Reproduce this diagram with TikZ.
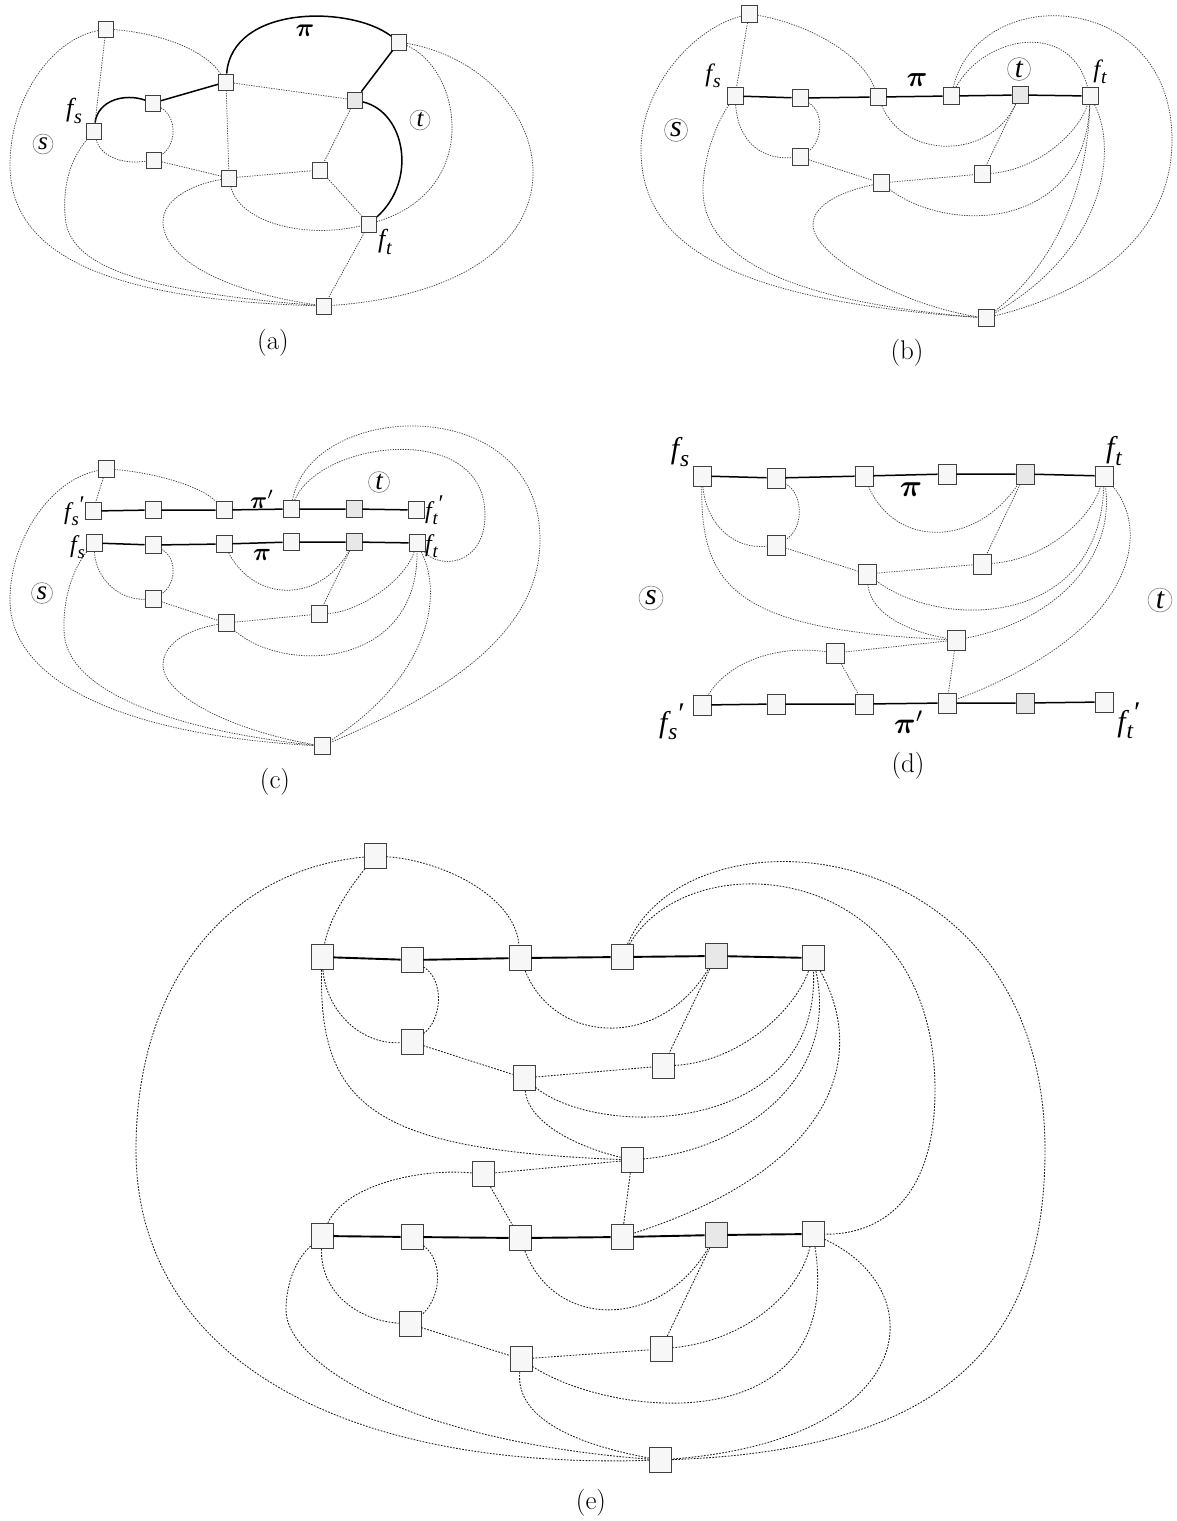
\documentclass[tikz,border=0pt]{standalone}
\usepackage{amsmath}
\usepackage{graphicx}
\usepackage{fontspec}
\newfontfamily\tms{Liberation Serif}
\newcommand{\fsb}[1]{f\kern0.03em\raisebox{-0.24em}{\scalebox{0.78}{#1}}}
\newcommand{\fsbp}[1]{f\kern0.03em\raisebox{-0.24em}{\scalebox{0.78}{#1}}\kern0.03em\raisebox{0.28em}{\upshape ′}}
\newcommand{\bpi}[1]{\scalebox{#1}{$\boldsymbol{\pi}$}}
\newcommand{\bpip}[1]{\scalebox{#1}{$\boldsymbol{\pi}'$}}
\begin{document}
\begin{tikzpicture}[x=1pt,y=-1pt,
  box/.style={rectangle,draw=black!75,fill=black!3,line width=0.8pt,inner sep=0pt},
  boxa/.style={box,minimum width=15pt,minimum height=16pt},
  boxb/.style={box,minimum width=16pt,minimum height=17pt},
  boxd/.style={box,minimum width=18pt,minimum height=20pt},
  boxe/.style={box,minimum width=22pt,minimum height=25pt},
  dk/.style={fill=black!9},
  dt/.style={draw=black!75,line width=0.75pt,dash pattern=on 1.3pt off 1.2pt},
  dte/.style={draw=black!90,line width=0.85pt,dash pattern=on 1.7pt off 1.4pt},
  pth/.style={draw=black,line width=1.5pt},
  pthe/.style={draw=black,line width=1.9pt},
  lbl/.style={inner sep=0pt},
  circ/.style={circle,draw=black!50,line width=0.6pt,inner sep=0pt},
  captxt/.style={inner sep=0pt,font=\fontsize{27}{27}\selectfont}]
\path[use as bounding box] (0,0) rectangle (1177,1521);

% ================= (a) =================
\node[boxa] (aTL) at (106,29) {};
\node[boxa] (aP) at (399,42) {};
\node[boxa] (aC) at (226,82) {};
\node[boxa] (aB) at (153,103) {};
\node[boxa] (aFS) at (94,131) {};
\node[boxa,dk] (aR) at (355,100) {};
\node[boxa] (aD) at (154,160) {};
\node[boxa] (aE) at (229,178) {};
\node[boxa] (aF) at (320,170) {};
\node[boxa] (aFT) at (369,224) {};
\node[boxa] (aBOT) at (324,306) {};

\draw[pth] (aFS) .. controls (98,100) and (125,93) .. (aB);
\draw[pth] (aB) -- (aC);
\draw[pth] (aC) .. controls (232,5) and (350,5) .. (aP);
\draw[pth] (aP) -- (aR);
\draw[pth] (aR) .. controls (405,112) and (418,180) .. (aFT);

\draw[dt] (aTL) .. controls (160,33) and (205,50) .. (aC);
\draw[dt] (aTL) -- (aFS);
\draw[dt] (aTL) .. controls (50,40) and (10,100) .. (10,165) .. controls (10,260) and (120,300) .. (aBOT);
\draw[dt] (aB) .. controls (178,118) and (176,145) .. (aD);
\draw[dt] (aFS) .. controls (100,155) and (120,165) .. (aD);
\draw[dt] (aD) -- (aE);
\draw[dt] (aC) -- (aE);
\draw[dt] (aC) -- (aR);
\draw[dt] (aR) -- (aF);
\draw[dt] (aE) -- (aF);
\draw[dt] (aF) -- (aFT);
\draw[dt] (aE) .. controls (238,220) and (300,240) .. (aFT);
\draw[dt] (aFT) -- (aBOT);
\draw[dt] (aFS) .. controls (70,160) and (63,185) .. (65,215) .. controls (67,260) and (120,290) .. (aBOT);
\draw[dt] (aE) .. controls (190,185) and (163,200) .. (163,222) .. controls (163,255) and (215,290) .. (aBOT);
\draw[dt] (aP) .. controls (462,70) and (482,190) .. (aFT);
\draw[dt] (aP) .. controls (560,70) and (615,285) .. (aBOT);

\node[lbl,font=\fontsize{26}{26}\tms\itshape] (aLfs) at (74,111) {\fsb{s}};
\node[lbl,font=\fontsize{26}{26}\tms\itshape] (aLft) at (385,242) {\fsb{t}};
\node[lbl] (aLpi) at (305,31) {\bpi{2.6}};
\node[circ,minimum size=20pt,font=\fontsize{25}{25}\tms\itshape] (aS) at (43,144) {s};
\node[circ,minimum size=20pt,font=\fontsize{25}{25}\tms\itshape] (aT) at (420,120) {t};
\node[captxt] (acap) at (273,343) {(a)};

% ================= (b) =================
\node[boxb] (bTL) at (749,14) {};
\node[boxb] (bFS) at (735,96) {};
\node[boxb] (bN2) at (800,98) {};
\node[boxb] (bN3) at (878,97) {};
\node[boxb] (bN4) at (951,96) {};
\node[boxb,dk] (bN5) at (1020,95) {};
\node[boxb] (bFT) at (1090,96) {};
\node[boxb] (bD) at (800,157) {};
\node[boxb] (bE) at (881,183) {};
\node[boxb] (bF) at (982,174) {};
\node[boxb] (bBOT) at (986,318) {};

\draw[pth] (bFS) -- (bN2) -- (bN3) -- (bN4) -- (bN5) -- (bFT);

\draw[dt] (bTL) -- (bFS);
\draw[dt] (bTL) .. controls (800,22) and (860,50) .. (bN3);
\draw[dt] (bTL) .. controls (690,30) and (641,90) .. (641,150) .. controls (641,240) and (720,300) .. (bBOT);
\draw[dt] (bFS) .. controls (738,140) and (760,160) .. (bD);
\draw[dt] (bN2) .. controls (825,112) and (822,142) .. (bD);
\draw[dt] (bD) -- (bE);
\draw[dt] (bN3) .. controls (905,160) and (990,160) .. (bN5);
\draw[dt] (bN5) -- (bF);
\draw[dt] (bE) -- (bF);
\draw[dt] (bF) .. controls (1040,170) and (1080,130) .. (bFT);
\draw[dt] (bE) .. controls (950,235) and (1085,230) .. (bFT);
\draw[dt] (bE) .. controls (840,192) and (813,205) .. (813,225) .. controls (813,255) and (900,305) .. (bBOT);
\draw[dt] (bFS) .. controls (715,125) and (703,160) .. (703,190) .. controls (703,250) and (770,300) .. (bBOT);
\draw[dt] (bFT) .. controls (1088,180) and (1060,260) .. (bBOT);
\draw[dt] (bFT) .. controls (1118,150) and (1105,250) .. (bBOT);
\draw[dt] (bN4) .. controls (985,35) and (1070,20) .. (bFT);
\draw[dt] (bN4) .. controls (980,-20) and (1172,-10) .. (1172,140) .. controls (1172,230) and (1100,290) .. (bBOT);

\node[lbl,font=\fontsize{25}{25}\tms\itshape] (bLfs) at (713,76) {\fsb{s}};
\node[lbl,font=\fontsize{25}{25}\tms\itshape] (bLft) at (1100,72) {\fsb{t}};
\node[lbl] (bLpi) at (917,80) {\bpi{2.9}};
\node[circ,minimum size=23pt,font=\fontsize{30}{30}\tms\itshape] (bS) at (676,130) {s};
\node[circ,minimum size=23pt,font=\fontsize{29}{29}\tms\itshape] (bT) at (1019,69) {t};
\node[captxt] (bcap) at (907,353) {(b)};

% ================= (c) =================
\node[boxb] (cTL) at (106,469) {};
\node[boxb] (cA1) at (93,511) {};
\node[boxb] (cA2) at (153,510) {};
\node[boxb] (cA3) at (224,510) {};
\node[boxb] (cA4) at (291,509) {};
\node[boxb,dk] (cA5) at (354,509) {};
\node[boxb] (cA6) at (416,510) {};
\node[boxb] (cB1) at (94,543) {};
\node[boxb] (cB2) at (153,545) {};
\node[boxb] (cB3) at (224,544) {};
\node[boxb] (cB4) at (291,542) {};
\node[boxb,dk] (cB5) at (354,542) {};
\node[boxb] (cB6) at (417,543) {};
\node[boxb] (cD) at (153,599) {};
\node[boxb] (cE) at (226,623) {};
\node[boxb] (cF) at (319,614) {};
\node[boxb] (cBOT) at (322,746) {};

\draw[pth] (cA1) -- (cA2) -- (cA3) -- (cA4) -- (cA5) -- (cA6);
\draw[pth] (cB1) -- (cB2) -- (cB3) -- (cB4) -- (cB5) -- (cB6);

\draw[dt] (cTL) -- (cA1);
\draw[dt] (cTL) .. controls (150,472) and (200,485) .. (cA3);
\draw[dt] (cTL) .. controls (50,480) and (10,540) .. (10,600) .. controls (10,680) and (120,735) .. (cBOT);
\draw[dt] (cB1) .. controls (96,580) and (120,600) .. (cD);
\draw[dt] (cB2) .. controls (178,558) and (176,585) .. (cD);
\draw[dt] (cD) -- (cE);
\draw[dt] (cB3) .. controls (255,603) and (320,603) .. (cB5);
\draw[dt] (cB5) -- (cF);
\draw[dt] (cE) -- (cF);
\draw[dt] (cF) .. controls (360,612) and (405,580) .. (cB6);
\draw[dt] (cE) .. controls (285,675) and (418,668) .. (cB6);
\draw[dt] (cE) .. controls (185,630) and (163,645) .. (163,665) .. controls (163,695) and (230,730) .. (cBOT);
\draw[dt] (cB1) .. controls (72,570) and (63,600) .. (64,630) .. controls (64,690) and (170,730) .. (cBOT);
\draw[dt] (cB6) .. controls (445,600) and (425,680) .. (cBOT);
\draw[dt] (cA4) .. controls (320,440) and (485,420) .. (485,515) .. controls (485,565) and (440,570) .. (cB6);
\draw[dt] (cA4) .. controls (310,400) and (540,390) .. (540,540) .. controls (540,640) and (430,700) .. (cBOT);

\node[lbl,anchor=east,font=\fontsize{24}{24}\tms\itshape] (cLfsp) at (85,511) {\fsbp{s}};
\node[lbl,anchor=west,font=\fontsize{24}{24}\tms\itshape] (cLftp) at (425,510) {\fsbp{t}};
\node[lbl,anchor=east,font=\fontsize{24}{24}\tms\itshape] (cLfs) at (85,547) {\fsb{s}};
\node[lbl,anchor=west,font=\fontsize{24}{24}\tms\itshape] (cLft) at (425,546) {\fsb{t}};
\node[lbl] (cLpip) at (262,499) {\bpip{2.4}};
\node[lbl] (cLpi) at (262,555) {\bpi{2.5}};
\node[circ,minimum size=21pt,font=\fontsize{27}{27}\tms\itshape] (cS) at (42,593) {s};
\node[circ,minimum size=21pt,font=\fontsize{27}{27}\tms\itshape] (cT) at (379,482) {t};
\node[captxt] (ccap) at (275,782) {(c)};

% ================= (d) =================
\node[boxd] (dP1) at (702,476) {};
\node[boxd] (dP2) at (776,478) {};
\node[boxd] (dP3) at (864,476) {};
\node[boxd] (dP4) at (947,474) {};
\node[boxd,dk] (dP5) at (1025,474) {};
\node[boxd] (dP6) at (1104,476) {};
\node[boxd] (dD) at (776,545) {};
\node[boxd] (dE) at (867,574) {};
\node[boxd] (dF) at (982,564) {};
\node[boxd] (dG) at (956,640) {};
\node[boxd] (dH) at (835,653) {};
\node[boxd] (dQ1) at (702,705) {};
\node[boxd] (dQ2) at (776,704) {};
\node[boxd] (dQ3) at (864,704) {};
\node[boxd] (dQ4) at (947,703) {};
\node[boxd,dk] (dQ5) at (1025,703) {};
\node[boxd] (dQ6) at (1104,702) {};

\draw[pth] (dP1) -- (dP2) -- (dP3) -- (dP4) -- (dP5) -- (dP6);
\draw[pth] (dQ1) -- (dQ2) -- (dQ3) -- (dQ4) -- (dQ5) -- (dQ6);

\draw[dt] (dP1) .. controls (706,525) and (735,550) .. (dD);
\draw[dt] (dP2) .. controls (805,495) and (803,530) .. (dD);
\draw[dt] (dD) -- (dE);
\draw[dt] (dP3) .. controls (895,548) and (975,548) .. (dP5);
\draw[dt] (dP5) -- (dF);
\draw[dt] (dE) -- (dF);
\draw[dt] (dF) .. controls (1045,560) and (1090,520) .. (dP6);
\draw[dt] (dE) .. controls (945,632) and (1100,625) .. (dP6);
\draw[dt] (dP1) .. controls (700,590) and (740,630) .. (dG);
\draw[dt] (dE) .. controls (870,610) and (900,630) .. (dG);
\draw[dt] (dG) .. controls (1060,620) and (1115,555) .. (dP6);
\draw[dt] (dG) -- (dH);
\draw[dt] (dH) .. controls (780,645) and (730,660) .. (dQ1);
\draw[dt] (dH) -- (dQ3);
\draw[dt] (dG) -- (dQ4);
\draw[dt] (dP6) .. controls (1150,530) and (1140,630) .. (dQ4);

\node[lbl,font=\fontsize{30}{30}\tms\itshape] (dLfs) at (680,452) {\fsb{s}};
\node[lbl,font=\fontsize{30}{30}\tms\itshape] (dLft) at (1114,451) {\fsb{t}};
\node[lbl,font=\fontsize{30}{30}\tms\itshape] (dLfsp) at (672,722) {\fsbp{s}};
\node[lbl,font=\fontsize{30}{30}\tms\itshape] (dLftp) at (1129,721) {\fsbp{t}};
\node[lbl] (dLpi) at (911,490) {\bpi{3.1}};
\node[lbl] (dLpip) at (909,722) {\bpip{3.0}};
\node[circ,minimum size=24pt,font=\fontsize{30}{30}\tms\itshape] (dS) at (651,598) {s};
\node[circ,minimum size=24pt,font=\fontsize{30}{30}\tms\itshape] (dT) at (1160,600) {t};
\node[captxt] (dcap) at (908,766) {(d)};

% ================= (e) =================
\node[boxe] (eTL) at (375,856) {};
\node[boxe] (eU1) at (322,957) {};
\node[boxe] (eU2) at (412,960) {};
\node[boxe] (eU3) at (520,958) {};
\node[boxe] (eU4) at (622,957) {};
\node[boxe,dk] (eU5) at (716,956) {};
\node[boxe] (eU6) at (813,958) {};
\node[boxe] (eD) at (412,1042) {};
\node[boxe] (eE) at (524,1078) {};
\node[boxe] (eF) at (663,1066) {};
\node[boxe] (eG) at (632,1160) {};
\node[boxe] (eH) at (483,1174) {};
\node[boxe] (eV1) at (322,1236) {};
\node[boxe] (eV2) at (412,1237) {};
\node[boxe] (eV3) at (520,1238) {};
\node[boxe] (eV4) at (622,1237) {};
\node[boxe,dk] (eV5) at (716,1235) {};
\node[boxe] (eV6) at (813,1234) {};
\node[boxe] (eD2) at (410,1324) {};
\node[boxe] (eE2) at (521,1359) {};
\node[boxe] (eF2) at (661,1349) {};
\node[boxe] (eBOT) at (660,1460) {};

\draw[pthe] (eU1) -- (eU2) -- (eU3) -- (eU4) -- (eU5) -- (eU6);
\draw[pthe] (eV1) -- (eV2) -- (eV3) -- (eV4) -- (eV5) -- (eV6);

\draw[dte] (eTL) .. controls (352,885) and (330,915) .. (eU1);
\draw[dte] (eTL) .. controls (440,860) and (515,895) .. (eU3);
\draw[dte] (eTL) .. controls (230,870) and (136,980) .. (136,1150) .. controls (136,1350) and (330,1470) .. (eBOT);
\draw[dte] (eU1) .. controls (326,1010) and (360,1045) .. (eD);
\draw[dte] (eU2) .. controls (445,980) and (442,1020) .. (eD);
\draw[dte] (eD) -- (eE);
\draw[dte] (eU3) .. controls (555,1045) and (660,1050) .. (eU5);
\draw[dte] (eU5) -- (eF);
\draw[dte] (eE) -- (eF);
\draw[dte] (eF) .. controls (740,1062) and (795,1010) .. (eU6);
\draw[dte] (eE) .. controls (600,1140) and (820,1135) .. (eU6);
\draw[dte] (eU1) .. controls (318,1110) and (380,1150) .. (eG);
\draw[dte] (eE) .. controls (528,1120) and (570,1145) .. (eG);
\draw[dte] (eG) .. controls (740,1150) and (840,1080) .. (eU6);
\draw[dte] (eG) -- (eH);
\draw[dte] (eH) .. controls (420,1168) and (345,1185) .. (eV1);
\draw[dte] (eH) -- (eV3);
\draw[dte] (eG) -- (eV4);
\draw[dte] (eU6) .. controls (870,1060) and (830,1170) .. (eV4);
\draw[dte] (eU4) .. controls (690,840) and (935,860) .. (935,1090) .. controls (935,1200) and (880,1235) .. (eV6);
\draw[dte] (eU4) .. controls (690,800) and (1045,830) .. (1045,1150) .. controls (1045,1330) and (960,1450) .. (eBOT);
\draw[dte] (eV1) .. controls (320,1290) and (355,1320) .. (eD2);
\draw[dte] (eV2) .. controls (445,1262) and (440,1300) .. (eD2);
\draw[dte] (eD2) -- (eE2);
\draw[dte] (eV3) .. controls (555,1330) and (660,1330) .. (eV5);
\draw[dte] (eV5) -- (eF2);
\draw[dte] (eE2) -- (eF2);
\draw[dte] (eF2) .. controls (750,1340) and (800,1290) .. (eV6);
\draw[dte] (eE2) .. controls (615,1420) and (845,1440) .. (eV6);
\draw[dte] (eE2) .. controls (515,1420) and (580,1445) .. (eBOT);
\draw[dte] (eV1) .. controls (295,1260) and (286,1285) .. (286,1310) .. controls (286,1360) and (400,1440) .. (eBOT);
\draw[dte] (eV6) .. controls (935,1290) and (920,1440) .. (eBOT);

\node[captxt] (ecap) at (591,1503) {(e)};
\end{tikzpicture}
\end{document}
